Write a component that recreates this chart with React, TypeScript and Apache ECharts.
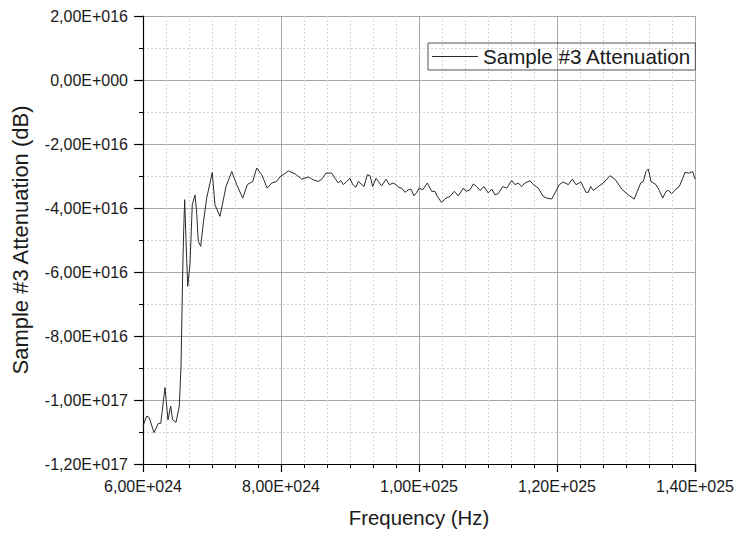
import React, { useEffect, useRef } from "react";
import * as echarts from "echarts";

const frequencyHz: number[] = [
  6.0e24, 6.054e24, 6.091e24, 6.159e24, 6.222e24, 6.257e24, 6.319e24, 6.362e24, 6.401e24, 6.43e24,
  6.478e24, 6.526e24, 6.551e24, 6.575e24, 6.59e24, 6.604e24, 6.623e24, 6.648e24, 6.681e24, 6.714e24,
  6.754e24, 6.778e24, 6.801e24, 6.836e24, 6.874e24, 6.923e24, 6.971e24, 7.004e24, 7.043e24, 7.116e24,
  7.203e24, 7.286e24, 7.358e24, 7.445e24, 7.512e24, 7.59e24, 7.648e24, 7.72e24, 7.801e24, 7.865e24,
  7.938e24, 7.986e24, 8.033e24, 8.106e24, 8.203e24, 8.3e24, 8.396e24, 8.468e24, 8.541e24, 8.59e24,
  8.652e24, 8.735e24, 8.783e24, 8.83e24, 8.865e24, 8.903e24, 8.952e24, 9.0e24, 9.039e24, 9.087e24,
  9.12e24, 9.17e24, 9.203e24, 9.251e24, 9.29e24, 9.329e24, 9.377e24, 9.41e24, 9.459e24, 9.522e24,
  9.57e24, 9.628e24, 9.667e24, 9.7e24, 9.749e24, 9.797e24, 9.845e24, 9.884e24, 9.928e24, 9.967e24,
  1.0004e25, 1.0054e25, 1.012e25, 1.0184e25, 1.0232e25, 1.0265e25, 1.0329e25, 1.0391e25, 1.0449e25, 1.0512e25,
  1.057e25, 1.0642e25, 1.0681e25, 1.0739e25, 1.0787e25, 1.0836e25, 1.0884e25, 1.0942e25, 1.1004e25, 1.1054e25,
  1.1101e25, 1.1149e25, 1.1213e25, 1.1271e25, 1.1343e25, 1.1391e25, 1.1439e25, 1.1488e25, 1.1536e25, 1.1609e25,
  1.1657e25, 1.1729e25, 1.1801e25, 1.1851e25, 1.1923e25, 1.1971e25, 1.2033e25, 1.2091e25, 1.2164e25, 1.2222e25,
  1.2275e25, 1.2348e25, 1.242e25, 1.2454e25, 1.2488e25, 1.2526e25, 1.2599e25, 1.2671e25, 1.2768e25, 1.2841e25,
  1.2938e25, 1.3033e25, 1.312e25, 1.3164e25, 1.3213e25, 1.3251e25, 1.329e25, 1.3323e25, 1.3362e25, 1.3435e25,
  1.3483e25, 1.3532e25, 1.358e25, 1.3613e25, 1.3662e25, 1.3725e25, 1.3773e25, 1.3855e25, 1.3917e25, 1.3967e25,
  1.4e25,
];

const attenuation: number[] = [
  -1.081e17, -1.05e17, -1.055e17, -1.102e17, -1.073e17, -1.073e17, -9.61e16, -1.062e17, -1.019e17, -1.062e17,
  -1.07e17, -1.019e17, -8.94e16, -6.03e16, -4.68e16, -3.74e16, -4.99e16, -6.45e16, -5.77e16, -3.9e16,
  -3.59e16, -4.16e16, -5.04e16, -5.2e16, -4.47e16, -3.69e16, -3.22e16, -2.89e16, -3.9e16, -4.26e16,
  -3.33e16, -2.86e16, -3.27e16, -3.69e16, -3.27e16, -3.17e16, -2.75e16, -2.96e16, -3.38e16, -3.22e16,
  -3.17e16, -3.02e16, -2.96e16, -2.84e16, -2.93e16, -3.1e16, -3.03e16, -3.12e16, -3.17e16, -3.1e16,
  -2.91e16, -2.91e16, -3.07e16, -3.22e16, -3.14e16, -3.27e16, -3.17e16, -3.07e16, -3.27e16, -3.35e16,
  -3.17e16, -3.27e16, -3.33e16, -2.96e16, -2.99e16, -3.33e16, -3.07e16, -3.17e16, -3.31e16, -3.1e16,
  -3.27e16, -3.22e16, -3.27e16, -3.35e16, -3.38e16, -3.51e16, -3.43e16, -3.41e16, -3.62e16, -3.51e16,
  -3.38e16, -3.43e16, -3.22e16, -3.48e16, -3.48e16, -3.64e16, -3.83e16, -3.69e16, -3.64e16, -3.48e16,
  -3.62e16, -3.38e16, -3.48e16, -3.43e16, -3.25e16, -3.33e16, -3.45e16, -3.33e16, -3.53e16, -3.41e16,
  -3.59e16, -3.55e16, -3.33e16, -3.38e16, -3.14e16, -3.27e16, -3.22e16, -3.33e16, -3.22e16, -3.15e16,
  -3.27e16, -3.38e16, -3.64e16, -3.69e16, -3.72e16, -3.53e16, -3.27e16, -3.19e16, -3.27e16, -3.1e16,
  -3.27e16, -3.19e16, -3.51e16, -3.51e16, -3.33e16, -3.45e16, -3.33e16, -3.22e16, -2.99e16, -3.1e16,
  -3.41e16, -3.59e16, -3.72e16, -3.48e16, -3.22e16, -3.17e16, -2.86e16, -2.78e16, -3.17e16, -3.27e16,
  -3.45e16, -3.69e16, -3.48e16, -3.45e16, -3.55e16, -3.41e16, -3.33e16, -2.89e16, -2.91e16, -2.86e16,
  -3.1e16,
];

const seriesName = "Sample #3 Attenuation";
const xAxisTitle = "Frequency (Hz)";
const yAxisTitle = "Sample #3 Attenuation (dB)";

function sci(v: number): string {
  if (v === 0 || Math.abs(v) < 1) return "0,00E+000";
  const s = v.toExponential(2);
  const [mant, exp] = s.split("e");
  const sign = exp[0] === "-" ? "-" : "+";
  const digits = exp.replace(/^[+-]/, "").padStart(3, "0");
  return mant.replace(".", ",") + "E" + sign + digits;
}

const FONT = "'Liberation Sans', Arial, sans-serif";
const TEXT = "#1a1a1a";

export default function App() {
  const ref = useRef<HTMLDivElement>(null);
  useEffect(() => {
    if (!ref.current) return;
    const chart = echarts.init(ref.current, null, { renderer: "svg" });
    const data = frequencyHz.map((f, i) => [f, attenuation[i]]);
    chart.setOption({
      animation: false,
      backgroundColor: "#ffffff",
      textStyle: { fontFamily: FONT },
      grid: { left: 143, right: 45, top: 16, bottom: 68, containLabel: false },
      legend: {
        left: 428,
        top: 43,
        padding: [3, 4, 3, 4],
        borderColor: "#555",
        borderWidth: 1,
        itemWidth: 46,
        itemHeight: 1,
        itemStyle: { color: "#2a2a2a", borderWidth: 0 },
        textStyle: { fontFamily: FONT, fontSize: 20.6, color: TEXT, lineHeight: 20 },
        data: [{ name: seriesName, icon: "rect" }],
      },
      xAxis: {
        type: "value",
        min: 6e24,
        max: 1.4e25,
        interval: 2e24,
        name: xAxisTitle,
        nameLocation: "middle",
        nameGap: 44,
        nameTextStyle: { fontFamily: FONT, fontSize: 20.4, color: TEXT },
        axisLine: { show: true, onZero: false, lineStyle: { color: "#000", width: 1.2 } },
        axisTick: { show: true, inside: false, length: 8, lineStyle: { color: "#000", width: 1.2 } },
        minorTick: { show: true, splitNumber: 6, length: 4, lineStyle: { color: "#000", width: 1 } },
        axisLabel: {
          fontFamily: FONT,
          fontSize: 16,
          color: TEXT,
          margin: 14,
          showMinLabel: true,
          showMaxLabel: true,
          hideOverlap: false,
          formatter: (v: number) => sci(v),
        },
        splitLine: { show: true, lineStyle: { color: "#a8a8a8", width: 1 } },
        minorSplitLine: { show: true, lineStyle: { color: "#d4d4d4", width: 1, type: [2, 2] } },
      },
      yAxis: {
        type: "value",
        min: -1.2e17,
        max: 2e16,
        interval: 2e16,
        name: yAxisTitle,
        nameLocation: "middle",
        nameGap: 112,
        nameTextStyle: { fontFamily: FONT, fontSize: 22, color: TEXT },
        axisLine: { show: true, onZero: false, lineStyle: { color: "#000", width: 1.2 } },
        axisTick: { show: true, inside: false, length: 9, lineStyle: { color: "#000", width: 1.2 } },
        minorTick: { show: true, splitNumber: 2, length: 4, lineStyle: { color: "#000", width: 1 } },
        axisLabel: {
          fontFamily: FONT,
          fontSize: 16,
          color: TEXT,
          margin: 15,
          showMinLabel: true,
          showMaxLabel: true,
          formatter: (v: number) => sci(v),
        },
        splitLine: { show: true, lineStyle: { color: "#a8a8a8", width: 1 } },
        minorSplitLine: { show: true, lineStyle: { color: "#d4d4d4", width: 1, type: [2, 2] } },
      },
      series: [
        {
          name: seriesName,
          type: "line",
          data,
          symbol: "none",
          showSymbol: false,
          lineStyle: { color: "#2a2a2a", width: 1 },
          itemStyle: { color: "#2a2a2a" },
        },
      ],
    });
    return () => chart.dispose();
  }, []);
  return <div ref={ref} style={{ width: 740, height: 533, position: "absolute", left: 0, top: 0 }} />;
}
